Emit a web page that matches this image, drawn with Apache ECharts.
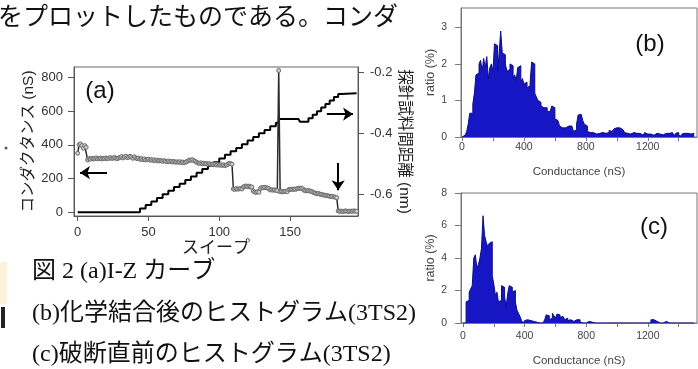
<!DOCTYPE html>
<html><head><meta charset="utf-8">
<script src="https://cdn.jsdelivr.net/npm/echarts@6/dist/echarts.min.js"></script>
<style>html,body{margin:0;padding:0;background:#fff}#c{width:698px;height:369px}</style>
</head><body><div id="c"></div>
<script>
// ---- (a) I-Z curve data ----
// conductance (nS) per sweep, index = sweep number
const sweepConductance = [
  350, 400, 405, 395, 380, 395, 385, 310, 318, 315,
  320, 316, 318, 322, 317, 319, 321, 316, 320, 318,
  322, 318, 320, 324, 319, 321, 325, 320, 318, 322,
  326, 330, 322, 328, 333, 324, 326, 331, 327, 320,
  329, 322, 318, 321, 314, 318, 312, 316, 310, 313,
  315, 309, 312, 307, 311, 306, 309, 304, 307, 305,
  302, 306, 303, 299, 304, 300, 302, 298, 301, 297,
  299, 296, 300, 295, 298, 294, 297, 300, 305, 310,
  308, 312, 306, 302, 296, 292, 290, 293, 288, 291,
  287, 289, 285, 288, 284, 286, 282, 285, 280, 283,
  279, 282, 278, 281, 277, 280, 284, 290, 288, 285,
  138, 136, 140, 137, 139, 141, 138, 150, 154, 156,
  152, 155, 150, 150, 126, 120, 118, 122, 119, 140,
  147, 145, 148, 146, 144, 140, 132, 134, 131, 133,
  130, 128, 840, 122, 124, 121, 123, 125, 122, 134,
  136, 137, 135, 138, 136, 140, 142, 143, 141, 139,
  130, 128, 127, 129, 126, 124, 120, 116, 113, 110,
  112, 108, 106, 104, 102, 100, 99, 97, 95, 94,
  93, 91, 90, 86, 8, 6, 7, 5, 6, 8,
  7, 5, 6, 7, 6, 8, 7, 6
];
// probe-sample distance (nm): sweep at which each level starts, and the level
const distanceSweeps = [0, 40, 44, 48, 52, 56, 60, 64, 68, 72, 76, 80, 84, 88, 92, 96, 100, 104, 108, 112, 116, 120, 124, 128, 132, 136, 140, 142, 156, 157, 160, 163, 166, 169, 172, 175, 178, 181, 184, 186, 197];
const distanceValues = [-0.660, -0.660, -0.648, -0.636, -0.625, -0.613, -0.601, -0.589, -0.577, -0.566, -0.554, -0.542, -0.530, -0.518, -0.507, -0.495, -0.483, -0.471, -0.459, -0.448, -0.436, -0.424, -0.412, -0.400, -0.389, -0.377, -0.365, -0.353, -0.353, -0.362, -0.362, -0.350, -0.339, -0.327, -0.315, -0.303, -0.292, -0.280, -0.270, -0.268, -0.268];
const sweepTicks = [0, 50, 100, 150];
const conductanceTicks = [0, 200, 400, 600, 800];
const distanceTicks = [-0.6, -0.4, -0.2];

// ---- (b), (c) histograms: ratio (%) per 10 nS bin from 0 to 1500 nS ----
const histBinWidth = 10;
const histB = [
  0, 0.05, 0.1, 0.15, 0.35, 0.65, 0.65, 0.9, 1.2, 1.7,
  1.75, 2.0, 2.1, 1.8, 2.15, 1.9, 2.2, 1.6, 1.9, 2.0,
  1.8, 2.55, 2.5, 1.8, 2.3, 2.9, 2.3, 2.25, 2.0, 1.8,
  1.85, 2.0, 1.95, 1.6, 1.7, 1.55, 1.9, 1.95, 1.5, 1.6,
  1.45, 1.5, 1.35, 1.4, 1.5, 2.05, 2.0, 1.2, 1.1, 1.0,
  0.95, 0.85, 0.8, 0.75, 0.8, 0.7, 0.7, 0.75, 0.85, 0.8,
  0.5, 0.45, 0.5, 0.3, 0.25, 0.2, 0.25, 0.2, 0.3, 0.25,
  0.3, 0.25, 0.15, 0.2, 0.35, 0.6, 0.62, 0.6, 0.45, 0.35,
  0.3, 0.15, 0.12, 0.1, 0.12, 0.1, 0.08, 0.12, 0.1, 0.1,
  0.12, 0.08, 0.1, 0.15, 0.12, 0.18, 0.15, 0.2, 0.22, 0.25,
  0.27, 0.25, 0.22, 0.2, 0.15, 0.12, 0.1, 0.12, 0.08, 0.1,
  0.12, 0.08, 0.1, 0.06, 0.1, 0.08, 0.05, 0.1, 0.12, 0.08,
  0.1, 0.08, 0.12, 0.05, 0.03, 0.1, 0.12, 0.08, 0.1, 0.06,
  0.03, 0.1, 0.12, 0.1, 0.08, 0.12, 0.1, 0.03, 0.1, 0.12,
  0.05, 0.02, 0.08, 0.1, 0.05, 0.1, 0.12, 0.08, 0.1, 0.1
];
const histC = [
  0, 0, 1.3, 1.4, 1.9, 2.1, 2.3, 4.0, 4.2, 3.4,
  3.6, 4.0, 4.6, 6.6, 5.4, 5.0, 4.7, 4.9, 5.0, 2.9,
  2.4, 1.7, 1.9, 1.3, 1.4, 2.3, 2.2, 1.6, 1.0, 1.8,
  2.3, 2.2, 1.9, 2.0, 1.3, 0.8, 0.6, 0.4, 0.15, 0,
  0.15, 0.2, 0.1, 0.15, 0.2, 0.1, 0.2, 0.05, 0.15, 0,
  0.05, 0, 0, 0.2, 0.5, 0.45, 0.2, 0.3, 0.6, 0.45,
  0.3, 0.55, 0.5, 0.35, 0.4, 0.3, 0.2, 0.3, 0.15, 0.2,
  0.25, 0.1, 0.15, 0.2, 0.1, 0.2, 0.05, 0, 0, 0,
  0, 0.1, 0.15, 0.05, 0.1, 0, 0, 0, 0, 0,
  0, 0, 0, 0, 0, 0, 0, 0, 0, 0,
  0, 0, 0, 0, 0, 0, 0, 0, 0, 0,
  0, 0, 0, 0, 0, 0, 0, 0, 0, 0,
  0, 0, 0.2, 0.2, 0.15, 0.1, 0, 0, 0, 0,
  0, 0.1, 0, 0, 0, 0, 0, 0, 0, 0,
  0, 0, 0, 0, 0, 0, 0, 0, 0, 0
];
const histXTicks = [0, 200, 400, 600, 800, 1000, 1200, 1400];
const histXLabels = [0, 400, 800, 1200];
const histBYTicks = [0, 1, 2, 3];
const histCYTicks = [0, 2, 4, 6, 8];

// ---- texts ----
const topLine = 'をプロットしたものである。コンダ';
const captions = ['図 2 (a)I-Z カーブ', '(b)化学結合後のヒストグラム(3TS2)', '(c)破断直前のヒストグラム(3TS2)'];
const panelLabels = ['(a)', '(b)', '(c)'];

// ---- build ----
const navy = '#1616c4';
const navyEdge = '#0d0d86';
const axisCol = '#555';
const labelCol = '#333';
const latin = "'Liberation Sans', Arial, sans-serif";
const jp = "'Liberation Sans', 'Noto Sans CJK JP', sans-serif";
const plain = v => String(v);

function histData(vals) {
  const d = vals.map((v, i) => [i * histBinWidth, v]);
  d.push([vals.length * histBinWidth, vals[vals.length - 1]]);
  return d;
}

function valueAxis(o) {
  return Object.assign({
    type: 'value',
    splitLine: { show: false },
    axisLine: { show: true, onZero: false, lineStyle: { color: axisCol, width: 1 } },
    nameMoveOverlap: false
  }, o);
}

const chart = echarts.init(document.getElementById('c'));
chart.setOption({
  animation: false,
  backgroundColor: '#fff',
  grid: [
    { left: 74, top: 67, width: 284, height: 149, show: true, borderColor: '#666', borderWidth: 1 },
    { left: 461, top: 8, width: 236, height: 129, show: true, borderColor: '#777', borderWidth: 1 },
    { left: 461, top: 193, width: 236, height: 130, show: true, borderColor: '#777', borderWidth: 1 }
  ],
  xAxis: [
    valueAxis({
      gridIndex: 0, min: -2.6, max: 198,
      name: 'スイープ', nameLocation: 'middle', nameGap: 24,
      nameTextStyle: { fontSize: 17, fontFamily: jp, color: '#222' },
      axisTick: { show: true, length: 5, customValues: sweepTicks, lineStyle: { color: axisCol } },
      axisLabel: { customValues: sweepTicks, fontSize: 13, color: labelCol, margin: 10, fontFamily: latin, formatter: plain }
    }),
    valueAxis({
      gridIndex: 1, min: -6.5, max: 1518,
      name: 'Conductance (nS)', nameLocation: 'middle', nameGap: 29,
      nameTextStyle: { fontSize: 11.5, fontFamily: latin, color: '#444' },
      axisLine: { show: true, onZero: false, lineStyle: { color: '#777' } },
      axisTick: { show: true, length: 4, customValues: histXTicks, lineStyle: { color: '#777' } },
      axisLabel: { customValues: histXLabels, fontSize: 10.5, color: '#444', margin: 5, fontFamily: latin, formatter: plain }
    }),
    valueAxis({
      gridIndex: 2, min: -13, max: 1519,
      name: 'Conductance (nS)', nameLocation: 'middle', nameGap: 32,
      nameTextStyle: { fontSize: 11.5, fontFamily: latin, color: '#444' },
      axisLine: { show: true, onZero: false, lineStyle: { color: '#777' } },
      axisTick: { show: true, length: 4, customValues: histXTicks, lineStyle: { color: '#777' } },
      axisLabel: { customValues: histXLabels, fontSize: 10.5, color: '#444', margin: 8, fontFamily: latin, formatter: plain }
    })
  ],
  yAxis: [
    valueAxis({
      gridIndex: 0, position: 'left', min: -22, max: 861,
      name: 'コンダクタンス (nS)', nameLocation: 'middle', nameGap: 38, nameRotate: 90,
      nameTextStyle: { fontSize: 15.5, fontFamily: jp, color: '#222' },
      axisTick: { show: true, length: 6, customValues: conductanceTicks, lineStyle: { color: axisCol } },
      axisLabel: { customValues: conductanceTicks, fontSize: 13, color: labelCol, margin: 11, fontFamily: latin, formatter: plain }
    }),
    valueAxis({
      gridIndex: 0, position: 'right', min: -0.6726, max: -0.1812,
      name: '探針試料間距離 (nm)', nameLocation: 'middle', nameGap: 39, nameRotate: -90,
      nameTextStyle: { fontSize: 15.5, fontFamily: jp, color: '#222' },
      axisTick: { show: true, length: 6, customValues: distanceTicks, lineStyle: { color: axisCol } },
      axisLabel: { customValues: distanceTicks, fontSize: 13, color: labelCol, margin: 12, fontFamily: latin,
        formatter: v => v.toFixed(1) }
    }),
    valueAxis({
      gridIndex: 1, min: 0, max: 3.53,
      name: 'ratio (%)', nameLocation: 'middle', nameGap: 24, nameRotate: 90,
      nameTextStyle: { fontSize: 12.5, fontFamily: latin, color: '#444' },
      axisLine: { show: true, onZero: false, lineStyle: { color: '#777' } },
      axisTick: { show: true, length: 6, customValues: histBYTicks, lineStyle: { color: '#777' } },
      axisLabel: { customValues: histBYTicks, fontSize: 10.5, color: '#444', margin: 14, fontFamily: latin, formatter: plain }
    }),
    valueAxis({
      gridIndex: 2, min: 0, max: 8,
      name: 'ratio (%)', nameLocation: 'middle', nameGap: 24, nameRotate: 90,
      nameTextStyle: { fontSize: 12.5, fontFamily: latin, color: '#444' },
      axisLine: { show: true, onZero: false, lineStyle: { color: '#777' } },
      axisTick: { show: true, length: 6, customValues: histCYTicks, lineStyle: { color: '#777' } },
      axisLabel: { customValues: histCYTicks, fontSize: 10.5, color: '#444', margin: 14, fontFamily: latin, formatter: plain }
    })
  ],
  series: [
    {
      name: 'distance', type: 'line', xAxisIndex: 0, yAxisIndex: 1, step: 'end',
      data: distanceSweeps.map((x, i) => [x, distanceValues[i]]),
      showSymbol: false, lineStyle: { color: '#000', width: 2 }, z: 2, silent: true
    },
    {
      name: 'conductance', type: 'line', xAxisIndex: 0, yAxisIndex: 0,
      data: sweepConductance.map((v, i) => [i, v]),
      symbol: 'circle', symbolSize: 4, showAllSymbol: true,
      lineStyle: { color: '#2a2a2a', width: 1.5 },
      itemStyle: { color: '#cfcfcf', borderColor: '#6a6a6a', borderWidth: 1 },
      z: 3, silent: true,
      markLine: {
        silent: true, symbol: ['none', 'arrow'], symbolSize: 10,
        label: { show: false },
        lineStyle: { color: '#000', width: 2, type: 'solid' },
        data: [
          [{ coord: [20.7, 235] }, { coord: [1.6, 235] }],
          [{ coord: [176, 582] }, { coord: [194.5, 582] }],
          [{ coord: [184, 292] }, { coord: [184, 130] }]
        ]
      }
    },
    {
      name: 'histB', type: 'line', xAxisIndex: 1, yAxisIndex: 2, step: 'end',
      data: histData(histB), showSymbol: false,
      lineStyle: { color: navyEdge, width: 1 }, areaStyle: { color: navy, opacity: 1 }, silent: true
    },
    {
      name: 'histC', type: 'line', xAxisIndex: 2, yAxisIndex: 3, step: 'end',
      data: histData(histC), showSymbol: false,
      lineStyle: { color: navyEdge, width: 1 }, areaStyle: { color: navy, opacity: 1 }, silent: true
    }
  ],
  graphic: [
    { type: 'text', x: -2, y: 15, style: { text: topLine, fontSize: 25, fontFamily: "'Noto Sans CJK JP', sans-serif", fill: '#111', verticalAlign: 'middle', align: 'left' } },
    { type: 'text', x: 32, y: 271.5, style: { text: captions[0], fontSize: 24, fontFamily: "'Liberation Serif', 'Noto Sans CJK JP', serif", fill: '#111', verticalAlign: 'middle', align: 'left' } },
    { type: 'text', x: 32, y: 314, style: { text: captions[1], fontSize: 24, fontFamily: "'Liberation Serif', 'Noto Sans CJK JP', serif", fill: '#111', verticalAlign: 'middle', align: 'left' } },
    { type: 'text', x: 32, y: 355, style: { text: captions[2], fontSize: 24, fontFamily: "'Liberation Serif', 'Noto Sans CJK JP', serif", fill: '#111', verticalAlign: 'middle', align: 'left' } },
    { type: 'text', x: 100, y: 91.5, style: { text: panelLabels[0], fontSize: 24, fontFamily: latin, fill: '#111', verticalAlign: 'middle', align: 'center' } },
    { type: 'text', x: 650, y: 44, style: { text: panelLabels[1], fontSize: 24, fontFamily: latin, fill: '#111', verticalAlign: 'middle', align: 'center' } },
    { type: 'text', x: 654, y: 227, style: { text: panelLabels[2], fontSize: 24, fontFamily: latin, fill: '#111', verticalAlign: 'middle', align: 'center' } },
    { type: 'rect', shape: { x: 1, y: 307, width: 4, height: 21 }, style: { fill: '#222' } },
    { type: 'rect', shape: { x: 0, y: 262, width: 7, height: 42 }, style: { fill: 'rgba(250,205,110,0.25)' } },
    { type: 'circle', shape: { cx: 6, cy: 148, r: 1.5 }, style: { fill: '#555' } }
  ]
});
</script>
</body></html>
